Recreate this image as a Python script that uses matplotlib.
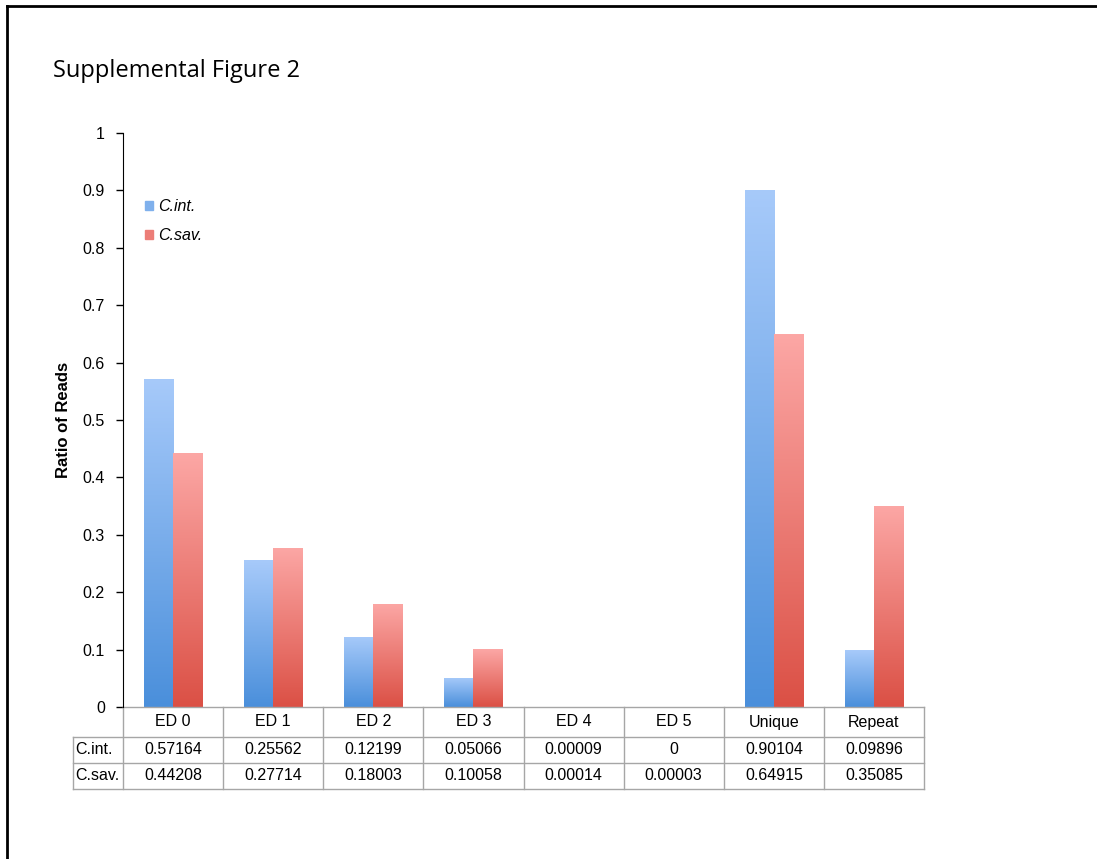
import numpy as np
import matplotlib.pyplot as plt
from matplotlib.colors import LinearSegmentedColormap
from matplotlib.lines import Line2D
from matplotlib.patches import Rectangle
from matplotlib.transforms import blended_transform_factory

categories = ['ED 0', 'ED 1', 'ED 2', 'ED 3', 'ED 4', 'ED 5', 'Unique', 'Repeat']
cint_labels = ['0.57164', '0.25562', '0.12199', '0.05066', '0.00009', '0', '0.90104', '0.09896']
csav_labels = ['0.44208', '0.27714', '0.18003', '0.10058', '0.00014', '0.00003', '0.64915', '0.35085']
cint = [float(v) for v in cint_labels]
csav = [float(v) for v in csav_labels]

plt.rcParams['font.family'] = ['Liberation Sans', 'DejaVu Sans']

blue_map = LinearSegmentedColormap.from_list('blue_grad', ['#4a8fdb', '#a7cafa'])
red_map = LinearSegmentedColormap.from_list('red_grad', ['#db5045', '#fca7a5'])

fig = plt.figure(figsize=(10.97, 8.59), dpi=100)
ax = fig.add_axes([123 / 1097, 1 - 707 / 859, 801 / 1097, 574 / 859])

# slide frame (top and left edges) and title
fig.add_artist(Line2D([7 / 1097, 7 / 1097], [0, 1 - 6 / 859], color='black', lw=2, transform=fig.transFigure))
fig.add_artist(Line2D([7 / 1097, 1], [1 - 6 / 859, 1 - 6 / 859], color='black', lw=2, transform=fig.transFigure))
fig.text(53 / 1097, 1 - 71 / 859, 'Supplemental Figure 2', fontsize=17, family='Open Sans', va='center')

x = np.arange(len(categories))
w = 0.29


def gradient_bars(xpos, vals, cmap):
    bars = ax.bar(xpos, vals, width=w, color='none', edgecolor='none')
    grad = np.linspace(1, 0, 256).reshape(-1, 1)
    for b in bars:
        h = b.get_height()
        if h <= 0:
            continue
        x0 = b.get_x()
        im = ax.imshow(grad, cmap=cmap, aspect='auto', extent=[x0, x0 + b.get_width(), 0, h],
                       vmin=0, vmax=1, zorder=2)
        im.set_clip_path(b)
    return bars


gradient_bars(x - w / 2, cint, blue_map)
gradient_bars(x + w / 2, csav, red_map)

ax.set_xlim(-0.5, len(categories) - 0.5)
ax.set_ylim(0, 1)
yt = np.arange(0, 1.01, 0.1).round(1)
ax.set_yticks(yt)
ax.set_yticklabels([f'{v:g}' for v in yt], fontsize=11.5)
ax.tick_params(axis='y', length=5, width=1, pad=8)
ax.set_xticks([])
for s in ['top', 'right', 'bottom']:
    ax.spines[s].set_visible(False)
ax.set_ylabel('Ratio of Reads', fontsize=12, fontweight='bold', labelpad=8)

# legend
handles = [Rectangle((0, 0), 1, 1, color='#7fb0ec'), Rectangle((0, 0), 1, 1, color='#ec7d77')]
ax.legend(handles, ['C.int.', 'C.sav.'], loc='upper left', bbox_to_anchor=(0.01, 0.91),
          frameon=False, prop={'style': 'italic', 'size': 11.5}, handlelength=0.5, handleheight=0.5,
          handletextpad=0.3, labelspacing=0.9)

# data table under the axis: x in data units, y in axes units
trans = blended_transform_factory(ax.transData, ax.transAxes)
n = len(categories)
edges_y = [0, -30 / 574, -56 / 574, -82 / 574]
grid = dict(color='#a6a6a6', lw=1, transform=trans, clip_on=False)
label_x = -1.0
ax.plot([-0.5, n - 0.5], [edges_y[0]] * 2, **grid)
for yy in edges_y[1:]:
    ax.plot([label_x, n - 0.5], [yy] * 2, **grid)
ax.plot([label_x, label_x], [edges_y[1], edges_y[3]], **grid)
for xx in np.arange(n + 1) - 0.5:
    ax.plot([xx, xx], [edges_y[0], edges_y[3]], **grid)

rows = [('', categories), ('C.int.', cint_labels), ('C.sav.', csav_labels)]
for r, (label, vals) in enumerate(rows):
    yc = (edges_y[r] + edges_y[r + 1]) / 2
    if label:
        ax.text(label_x + 0.02, yc, label, transform=trans, ha='left', va='center', fontsize=11.5)
    for i, v in enumerate(vals):
        ax.text(i, yc, v, transform=trans, ha='center', va='center', fontsize=11.5)

fig.savefig('out.png', dpi=100)
